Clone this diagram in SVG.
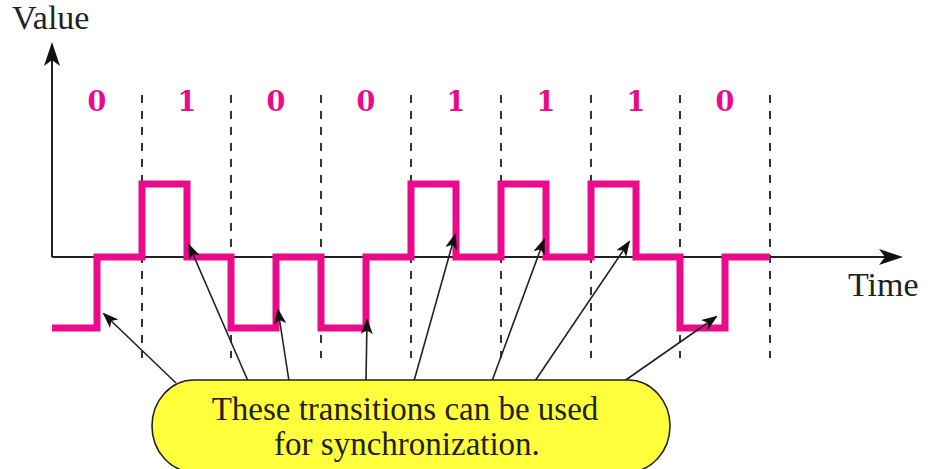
<svg xmlns="http://www.w3.org/2000/svg" width="930" height="469" viewBox="0 0 930 469">
<style>
.grid{stroke:#333;stroke-width:2;stroke-dasharray:8 8;fill:none}
.axis{stroke:#222;stroke-width:2;fill:none}
.wave{stroke:#EC0A8C;stroke-width:7;fill:none;stroke-linejoin:miter;stroke-linecap:butt}
.bit{font-family:"DejaVu Serif","Liberation Serif",serif;font-weight:bold;font-size:27px;fill:#EC0A8C;text-anchor:middle}
.lbl{font-family:"Liberation Serif","Times New Roman",serif;font-size:34px;fill:#222}
.ptr{stroke:#222;stroke-width:1.6;fill:none}
.callout{fill:#FFFF3C;stroke:#222;stroke-width:1.6}
.ctext{font-family:"Liberation Serif","Times New Roman",serif;font-size:33px;fill:#222;text-anchor:middle}
</style>
<defs>
<marker id="axArrow" markerUnits="userSpaceOnUse" markerWidth="24" markerHeight="16" refX="18" refY="8" orient="auto">
<path d="M0,0 L24,8 L0,16 L6,8 Z" fill="#111"/>
</marker>
<marker id="ptrArrow" markerUnits="userSpaceOnUse" markerWidth="16" markerHeight="12" refX="14" refY="6" orient="auto">
<path d="M0,0 L16,6 L0,12 L4,6 Z" fill="#111"/>
</marker>
</defs>
<rect x="0" y="0" width="930" height="469" fill="#fff"/>
<g id="grid">
<line class="grid" x1="142" y1="95" x2="142" y2="358"/>
<line class="grid" x1="231" y1="95" x2="231" y2="358"/>
<line class="grid" x1="321" y1="95" x2="321" y2="358"/>
<line class="grid" x1="411" y1="95" x2="411" y2="358"/>
<line class="grid" x1="501" y1="95" x2="501" y2="358"/>
<line class="grid" x1="591" y1="95" x2="591" y2="358"/>
<line class="grid" x1="680" y1="95" x2="680" y2="358"/>
<line class="grid" x1="770" y1="95" x2="770" y2="358"/>
</g>
<g id="axes">
<line class="axis" x1="52" y1="257" x2="52" y2="48" marker-end="url(#axArrow)"/>
<line class="axis" x1="52" y1="257" x2="897" y2="257" marker-end="url(#axArrow)"/>
<text class="lbl" x="12" y="29">Value</text>
<text class="lbl" x="848" y="296">Time</text>
</g>
<g id="bits">
<text class="bit" x="97" y="111">0</text>
<text class="bit" x="187" y="111">1</text>
<text class="bit" x="276" y="111">0</text>
<text class="bit" x="366" y="111">0</text>
<text class="bit" x="456" y="111">1</text>
<text class="bit" x="546" y="111">1</text>
<text class="bit" x="636" y="111">1</text>
<text class="bit" x="725" y="111">0</text>
</g>
<g id="signal">
<path class="wave" d="M52,328 H97 V257 H142 V184 H187 V257 H231 V328 H276 V257 H321 V328 H366 V257 H411 V184 H456 V257 H501 V184 H546 V257 H591 V184 H636 V257 H680 V328 H725 V257 H770"/>
</g>
<g id="connectors">
<line class="ptr" x1="176" y1="383" x2="104" y2="314" marker-end="url(#ptrArrow)"/>
<line class="ptr" x1="248" y1="381" x2="189" y2="245" marker-end="url(#ptrArrow)"/>
<line class="ptr" x1="289" y1="381" x2="278" y2="310" marker-end="url(#ptrArrow)"/>
<line class="ptr" x1="366" y1="381" x2="367" y2="320" marker-end="url(#ptrArrow)"/>
<line class="ptr" x1="414" y1="381" x2="455" y2="235" marker-end="url(#ptrArrow)"/>
<line class="ptr" x1="492" y1="381" x2="544" y2="240" marker-end="url(#ptrArrow)"/>
<line class="ptr" x1="535" y1="381" x2="629" y2="242" marker-end="url(#ptrArrow)"/>
<line class="ptr" x1="620" y1="384" x2="716" y2="317" marker-end="url(#ptrArrow)"/>
</g>
<g id="callout">
<rect class="callout" x="152" y="380" width="518" height="92" rx="42" ry="46"/>
<text class="ctext" x="405" y="420">These transitions can be used</text>
<text class="ctext" x="407" y="455">for synchronization.</text>
</g>
</svg>
